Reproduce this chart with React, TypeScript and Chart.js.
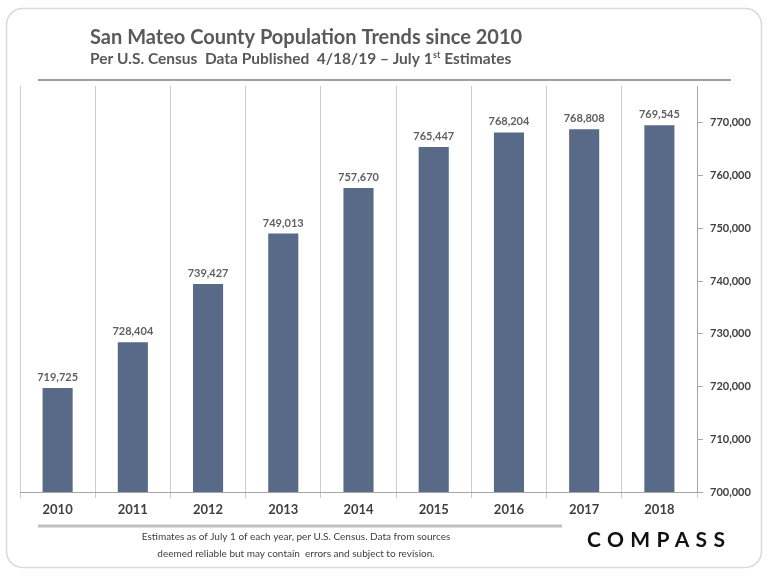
import React, { useEffect, useRef } from "react";
import { Chart, registerables } from "chart.js";

Chart.register(...registerables);

const years = ["2010", "2011", "2012", "2013", "2014", "2015", "2016", "2017", "2018"];
const population = [719725, 728404, 739427, 749013, 757670, 765447, 768204, 768808, 769545];
const yTickValues = [700000, 710000, 720000, 730000, 740000, 750000, 760000, 770000];

const titleText = "San Mateo County Population Trends since 2010";
const subtitleMain = "Per U.S. Census  Data Published  4/18/19 \u2013 July 1";
const subtitleSup = "st";
const subtitleEnd = " Estimates";
const footerLines = [
  "Estimates as of July 1 of each year, per U.S. Census. Data from sources",
  "deemed reliable but may contain  errors and subject to revision.",
];
const logoText = "COMPASS";

const FONT = "Lato, 'Open Sans', sans-serif";

const decorPlugin = {
  id: "decor",
  beforeDraw(chart: any) {
    const ctx = chart.ctx as CanvasRenderingContext2D;
    ctx.save();
    ctx.fillStyle = "#ffffff";
    ctx.fillRect(0, 0, chart.width, chart.height);
    ctx.strokeStyle = "#d9d9d9";
    ctx.lineWidth = 1.5;
    ctx.beginPath();
    (ctx as any).roundRect(6.5, 8.5, 755, 559, 16);
    ctx.stroke();
    ctx.restore();
  },
  afterDraw(chart: any) {
    const ctx = chart.ctx as CanvasRenderingContext2D;
    ctx.save();
    // title
    ctx.fillStyle = "#595959";
    ctx.textAlign = "left";
    ctx.textBaseline = "alphabetic";
    ctx.font = `bold 20px ${FONT}`;
    ctx.fillText(titleText, 90, 44);
    // subtitle
    ctx.font = `bold 15.5px ${FONT}`;
    ctx.fillText(subtitleMain, 90, 64);
    let x = 90 + ctx.measureText(subtitleMain).width;
    ctx.font = `bold 9px ${FONT}`;
    ctx.fillText(subtitleSup, x + 0.5, 58);
    x += ctx.measureText(subtitleSup).width + 0.5;
    ctx.font = `bold 15.5px ${FONT}`;
    ctx.fillText(subtitleEnd, x, 64);
    // top rule
    ctx.strokeStyle = "#7f7f7f";
    ctx.lineWidth = 1.5;
    ctx.beginPath();
    ctx.moveTo(38, 80);
    ctx.lineTo(731, 80);
    ctx.stroke();
    // data labels
    const meta = chart.getDatasetMeta(0);
    ctx.font = `bold 11px ${FONT}`;
    ctx.fillStyle = "#5f5f5f";
    ctx.textAlign = "center";
    meta.data.forEach((el: any, i: number) => {
      ctx.fillText(population[i].toLocaleString("en-US"), el.x, el.y - 7);
    });
    // bottom rule
    ctx.strokeStyle = "#bfbfbf";
    ctx.lineWidth = 3;
    ctx.beginPath();
    ctx.moveTo(38, 526);
    ctx.lineTo(562, 526);
    ctx.stroke();
    // footer
    ctx.fillStyle = "#404040";
    ctx.font = `10px ${FONT}`;
    ctx.textBaseline = "middle";
    ctx.fillText(footerLines[0], 296, 537);
    ctx.fillText(footerLines[1], 296, 554);
    // logo
    ctx.fillStyle = "#111111";
    ctx.font = `bold 21px ${FONT}`;
    ctx.textAlign = "left";
    ctx.textBaseline = "alphabetic";
    const w0 = ctx.measureText(logoText).width;
    const sp = Math.max(0, (138 - w0) / (logoText.length - 1));
    (ctx as any).letterSpacing = `${sp}px`;
    ctx.fillText(logoText, 587, 547);
    ctx.restore();
  },
};

export default function App() {
  const ref = useRef<HTMLCanvasElement>(null);
  useEffect(() => {
    if (!ref.current) return;
    const chart = new Chart(ref.current, {
      type: "bar",
      data: {
        labels: years,
        datasets: [
          {
            data: population,
            backgroundColor: "#586a88",
            barPercentage: 0.4,
            categoryPercentage: 1,
          },
        ],
      },
      options: {
        animation: false,
        responsive: false,
        devicePixelRatio: 1,
        layout: { padding: { left: 20, top: 86, right: 0, bottom: 54 } },
        plugins: { legend: { display: false }, tooltip: { enabled: false } },
        scales: {
          x: {
            grid: { offset: true, color: "#cccccc", tickLength: 6, drawOnChartArea: true },
            border: { color: "#a6a6a6" },
            ticks: { color: "#404040", font: { family: FONT, size: 13, weight: "bold" }, padding: 4 },
            afterFit: (s: any) => {
              s.height = 30;
            },
          },
          y: {
            position: "right",
            min: 700000,
            max: 777000,
            afterBuildTicks: (s: any) => {
              s.ticks = yTickValues.map((v) => ({ value: v }));
            },
            grid: { drawOnChartArea: false, tickLength: 6, color: "#a6a6a6" },
            border: { color: "#a6a6a6" },
            ticks: {
              color: "#404040",
              font: { family: FONT, size: 11, weight: "bold" },
              padding: 7,
              callback: (v: any) => Number(v).toLocaleString("en-US"),
            },
            afterFit: (s: any) => {
              s.width = 71;
            },
          },
        },
      },
      plugins: [decorPlugin],
    } as any);
    return () => chart.destroy();
  }, []);
  return (
    <div style={{ position: "fixed", left: 0, top: 0, width: 768, height: 576 }}>
      <canvas ref={ref} width={768} height={576} />
    </div>
  );
}
